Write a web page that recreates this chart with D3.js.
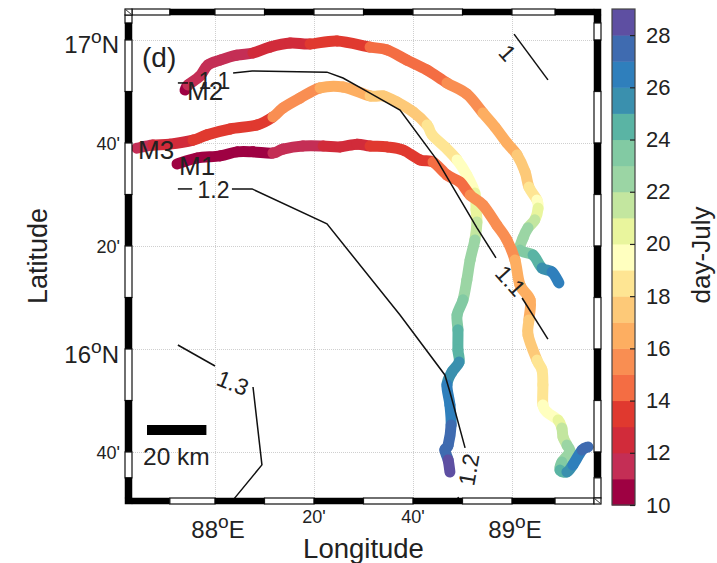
<!DOCTYPE html>
<html><head><meta charset="utf-8">
<script src="https://cdn.jsdelivr.net/npm/d3@7"></script>
<style>html,body{margin:0;padding:0;background:#fff}svg{display:block}text{font-family:"Liberation Sans",Arial,sans-serif;fill:#222}</style>
</head><body><svg id="c" width="717" height="563"></svg>
<script>
const m1Lon=[87.872,87.939,88.017,88.074,88.128,88.195,88.229,88.296,88.364,88.421,88.478,88.522,88.579,88.633,88.690,88.734,88.781,88.825,88.859,88.902,88.949,88.983,89.010,89.027,89.061,89.057,89.054,89.084,89.101,89.104,89.104,89.118,89.155,89.168,89.172,89.185,89.195,89.168,89.162,89.185,89.205,89.236,89.256];
const m1Lat=[16.599,16.618,16.625,16.638,16.638,16.634,16.647,16.657,16.657,16.654,16.663,16.657,16.654,16.644,16.612,16.605,16.563,16.540,16.498,16.466,16.401,16.353,16.288,16.207,16.159,16.094,16.045,15.964,15.932,15.884,15.819,15.796,15.770,15.744,15.715,15.689,15.667,15.634,15.608,15.602,15.625,15.673,15.683];
const m1Day=[10,10,10,10,10,11,11,11,12,12,12,13,13,13,13,14,14,14,15,15,15,15,16,16,16,17,17,18,18,18,19,19,20,21,21,22,22,23,24,25,26,27,27];
const m2Lon=[87.899,87.909,87.949,87.976,88.017,88.074,88.128,88.185,88.253,88.320,88.411,88.522,88.579,88.646,88.714,88.781,88.848,88.902,88.943,88.983,89.017,89.044,89.057,89.084,89.088,89.077,89.054,89.037,89.027,89.071,89.101,89.135,89.158];
const m2Lat=[16.838,16.854,16.883,16.919,16.935,16.951,16.958,16.977,16.990,16.987,16.997,16.977,16.968,16.935,16.903,16.861,16.825,16.764,16.718,16.667,16.628,16.573,16.524,16.482,16.456,16.418,16.392,16.359,16.320,16.304,16.262,16.249,16.214];
const m2Day=[10,11,11,11,11,11,12,12,12,13,13,14,14,14,14,15,15,16,16,16,17,17,18,19,20,21,22,22,23,24,25,26,27];
const m3Lon=[87.737,87.791,87.848,87.926,87.973,88.051,88.141,88.195,88.229,88.286,88.354,88.431,88.522,88.566,88.613,88.667,88.714,88.731,88.774,88.815,88.848,88.875,88.879,88.882,88.875,88.859,88.848,88.835,88.815,88.818,88.818,88.822,88.798,88.781,88.791,88.795,88.785,88.774,88.785,88.791];
const m3Lat=[16.650,16.660,16.663,16.676,16.693,16.712,16.725,16.751,16.780,16.812,16.845,16.848,16.819,16.819,16.799,16.767,16.725,16.693,16.654,16.612,16.563,16.505,16.450,16.411,16.353,16.288,16.223,16.159,16.110,16.062,15.997,15.958,15.926,15.884,15.819,15.754,15.689,15.673,15.641,15.602];
const m3Day=[11,12,12,13,13,13,13,15,15,15,16,16,17,17,17,17,18,18,18,19,19,20,20,21,22,22,22,23,23,24,24,25,25,26,26,27,27,27,28,28];

const contourLon=[[89.007,89.121],[87.875,87.909],[88.061,88.125,88.377,88.431,88.522,88.623,88.747,88.882,88.946],[89.034,89.121],[87.875,87.923],[88.057,88.125,88.377,88.623,88.774,88.791,88.842],[88.818,88.822],[87.875,88.0],[88.128,88.158,88.064]];
const contourLat=[[17.019,16.871],[16.861,16.861],[16.893,16.900,16.896,16.877,16.828,16.773,16.612,16.392,16.295],[16.165,16.032],[16.518,16.518],[16.518,16.518,16.405,16.110,15.916,15.861,15.680],[15.521,15.511],[16.013,15.945],[15.877,15.625,15.515]];
const contourText=["1","1.1","1.1","1.2","1.2","1.3"];
const contourTextLon=[88.985,87.998,88.995,87.995,88.855,88.06];
const contourTextLat=[16.958,16.868,16.221,16.513,15.61,15.89];
const contourTextAngle=[48,0,48,0,-80,22];

const colorBins=["#9e0142","#c42e55","#d12b3a","#e0392f","#f46d43","#f98e52","#fdae61","#fdc978","#fee593","#ffffbf","#e9f59d","#c3e69f","#9bd5a4","#82caa3","#5ab4a4","#3a90ae","#2f7fbc","#3f6bb0","#5e4fa2"];
const dayTicks=[10,12,14,16,18,20,22,24,26,28];
const lonGrid=[88,88+20/60,88+40/60,89];
const latGrid=[17,16+40/60,16+20/60,16,15+40/60];
const lonBreaks=[87.848,88,88+10/60,88+20/60,88+30/60,88+40/60,88+50/60,89,89.145];
const latBreaks=[17.055,17,16+50/60,16+40/60,16.5,16+20/60,16+10/60,16,15+50/60,15+40/60,15.583];

const svg=d3.select("#c");
const x=d3.scaleLinear().domain([88,89]).range([215,512]);
const y=d3.scaleLinear().domain([16,17]).range([349,40]);
const F={l:125,r:601,t:9,b:504,il:132,ir:594,it:15,ib:498};
const color=d3.scaleQuantize().domain([10,29]).range(colorBins);

// grid
svg.append("g").attr("transform",`translate(0,${F.b})`)
 .call(d3.axisBottom(x).tickValues(lonGrid).tickSize(-(F.b-F.t)).tickFormat(""))
 .call(g=>g.select(".domain").remove())
 .selectAll("line").attr("stroke","#cfcfcf").attr("stroke-dasharray","1 1");
svg.append("g").attr("transform",`translate(${F.l},0)`)
 .call(d3.axisLeft(y).tickValues(latGrid).tickSize(-(F.r-F.l)).tickFormat(""))
 .call(g=>g.select(".domain").remove())
 .selectAll("line").attr("stroke","#cfcfcf").attr("stroke-dasharray","1 1");

// tracks: each stretch is one smooth piece, coloured by its day
[[m3Lon,m3Lat,m3Day],[m2Lon,m2Lat,m2Day],[m1Lon,m1Lat,m1Day]].forEach(([lo,la,da])=>{
 const g=svg.append("g").attr("fill","none").attr("stroke-linecap","round").attr("stroke-width",11);
 const p=lo.map((v,i)=>[x(v),y(la[i])]);
 const n=p.length;
 d3.range(n-1).forEach(i=>{
  const a=p[Math.max(i-1,0)],b=p[i],c=p[i+1],d=p[Math.min(i+2,n-1)];
  const c1=[b[0]+(c[0]-a[0])/6,b[1]+(c[1]-a[1])/6],c2=[c[0]-(d[0]-b[0])/6,c[1]-(d[1]-b[1])/6];
  g.append("path").attr("d",`M${b}C${c1} ${c2} ${c}`).attr("stroke",color(da[i]+0.5));
 });
});

// contours
const ln=d3.line();
contourLon.forEach((lo,i)=>{
 svg.append("path").attr("d",ln(lo.map((v,j)=>[x(v),y(contourLat[i][j])])))
  .attr("fill","none").attr("stroke","#111").attr("stroke-width",1.5);
});
contourText.forEach((t,i)=>{
 svg.append("text").text(t)
  .attr("transform",`translate(${x(contourTextLon[i])},${y(contourTextLat[i])}) rotate(${contourTextAngle[i]})`)
  .attr("text-anchor","middle").attr("dominant-baseline","central").attr("font-size",23);
});

// frame
const fr=svg.append("g");
function band(x0,y0,w,h,black){
 fr.append("rect").attr("x",x0).attr("y",y0).attr("width",w).attr("height",h)
  .attr("fill",black?"#000":"#fff").attr("stroke",black?"#000":"#111").attr("stroke-width",black?0.5:1.2);
}
const xs=[F.il,...lonBreaks.map(x),F.ir], ys=[F.it,...latBreaks.map(y),F.ib];
d3.range(xs.length-1).forEach(i=>{
 band(xs[i],F.t,xs[i+1]-xs[i],F.it-F.t,i%2===1);
 band(xs[i],F.ib,xs[i+1]-xs[i],F.b-F.ib,i%2===0);
});
d3.range(ys.length-1).forEach(i=>{
 band(F.l,ys[i],F.il-F.l,ys[i+1]-ys[i],i%2===1);
 band(F.ir,ys[i],F.r-F.ir,ys[i+1]-ys[i],i%2===0);
});
band(F.l,F.t,F.il-F.l,F.it-F.t,false);
band(F.ir,F.ib,F.r-F.ir,F.b-F.ib,false);
band(F.ir,F.t,F.r-F.ir,F.it-F.t,true);
band(F.l,F.ib,F.il-F.l,F.b-F.ib,true);
fr.append("line").attr("x1",F.l).attr("y1",F.t).attr("x2",F.il).attr("y2",F.it).attr("stroke","#333");
fr.append("line").attr("x1",F.ir).attr("y1",F.ib).attr("x2",F.r).attr("y2",F.b).attr("stroke","#333");

// tick labels
function deg(sel,num,suf,size){
 sel.append("tspan").text(num).attr("font-size",size);
 sel.append("tspan").text("o").attr("font-size",size*0.8).attr("dy",-10);
 sel.append("tspan").text(suf).attr("font-size",size).attr("dy",10);
}
[[88,"88","E"],[89,"89","E"]].forEach(d=>{
 deg(svg.append("text").attr("x",x(d[0])+3).attr("y",538).attr("text-anchor","middle"),d[1],d[2],24);
});
deg(svg.append("text").attr("x",119).attr("y",53).attr("text-anchor","end"),"17","N",24);
deg(svg.append("text").attr("x",119).attr("y",363).attr("text-anchor","end"),"16","N",24);
[[88+20/60,"20'"],[88+40/60,"40'"]].forEach(d=>{
 svg.append("text").text(d[1]).attr("x",x(d[0])).attr("y",523).attr("text-anchor","middle").attr("font-size",18);
});
[[16+40/60,"40'"],[16+20/60,"20'"],[15+40/60,"40'"]].forEach(d=>{
 svg.append("text").text(d[1]).attr("x",120).attr("y",y(d[0])+6.5).attr("text-anchor","end").attr("font-size",18);
});
svg.append("text").text("Longitude").attr("x",363.5).attr("y",558).attr("text-anchor","middle").attr("font-size",27.5);
svg.append("text").text("Latitude").attr("transform","translate(47,256) rotate(-90)").attr("text-anchor","middle").attr("font-size",27);
svg.append("text").text("(d)").attr("x",142).attr("y",67).attr("font-size",28);
[["M2",187,100],["M3",138,159],["M1",179,175]].forEach(d=>{
 svg.append("text").text(d[0]).attr("x",d[1]).attr("y",d[2]).attr("font-size",26);
});
svg.append("rect").attr("x",147).attr("y",425).attr("width",x(88.2)-x(88)).attr("height",10).attr("fill","#000");
svg.append("text").text("20 km").attr("x",143).attr("y",465).attr("font-size",24.5);

// colorbar
const cy=d3.scaleLinear().domain([10,29]).range([505,9]);
const cb=svg.append("g");
colorBins.forEach((c,i)=>{
 cb.append("rect").attr("x",612).attr("width",23).attr("y",cy(11+i)).attr("height",cy(10+i)-cy(11+i)+.5).attr("fill",c);
});
cb.append("rect").attr("x",612).attr("y",9).attr("width",23).attr("height",496).attr("fill","none").attr("stroke","#444").attr("stroke-width",1.2);
const ax=svg.append("g").attr("transform","translate(635,0)")
 .call(d3.axisRight(cy).tickValues(dayTicks).tickSize(-5).tickPadding(11).tickFormat(d3.format("d")));
ax.select(".domain").remove();
ax.selectAll("line").attr("stroke","#222").attr("stroke-width",1.2);
ax.selectAll("text").attr("font-size",22).attr("font-family",'"Liberation Sans",Arial,sans-serif').attr("fill","#222");
svg.append("text").text("day-July").attr("transform","translate(710,255) rotate(-90)").attr("text-anchor","middle").attr("font-size",26);
</script></body></html>
